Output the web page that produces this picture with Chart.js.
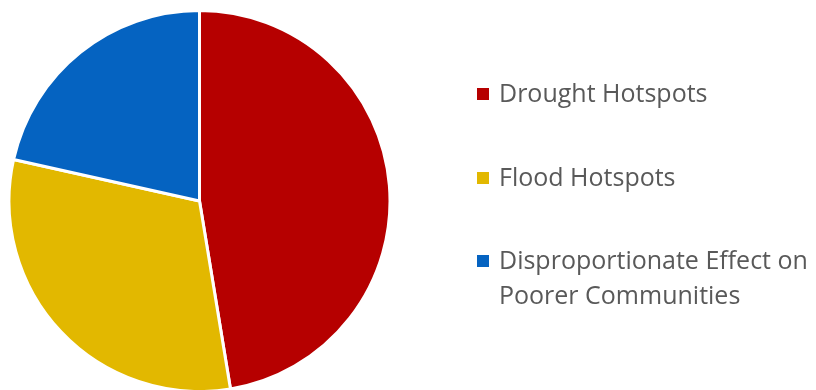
<!DOCTYPE html>
<html>
<head>
<meta charset="utf-8">
<script src="https://cdn.jsdelivr.net/npm/chart.js@4/dist/chart.umd.min.js"></script>
<style>
html,body{margin:0;padding:0;background:#fff;}
#wrap{position:relative;width:816px;height:390px;}
</style>
</head>
<body>
<div id="wrap"><canvas id="c" width="816" height="390"></canvas></div>
<script>
const categories = ["Drought Hotspots", "Flood Hotspots", "Disproportionate Effect on Poorer Communities"];
const legendLines = [["Drought Hotspots"], ["Flood Hotspots"], ["Disproportionate Effect on", "Poorer Communities"]];
const values = [47.4, 31.1, 21.5];
const colors = ["#B60000", "#E2B800", "#0563C1"];

const legendPlugin = {
  id: 'customLegend',
  afterDraw(chart) {
    const ctx = chart.ctx;
    ctx.save();
    ctx.font = '25px "Open Sans"';
    ctx.textBaseline = 'alphabetic';
    const baselines = [102, 186, 269];
    const lineH = 35;
    legendLines.forEach((lines, i) => {
      const y = baselines[i];
      ctx.fillStyle = chart.data.datasets[0].backgroundColor[i];
      ctx.fillRect(477, y - 14, 12, 12);
      ctx.fillStyle = '#595959';
      lines.forEach((t, j) => ctx.fillText(t, 499, y + j * lineH));
    });
    ctx.restore();
  }
};

new Chart(document.getElementById('c'), {
  type: 'pie',
  data: {
    labels: categories,
    datasets: [{
      data: values,
      backgroundColor: colors,
      borderColor: '#ffffff',
      borderWidth: 3,
      hoverOffset: 0,
      radius: 190.5
    }]
  },
  options: {
    responsive: false,
    animation: false,
    events: [],
    layout: { padding: { left: 0, right: 417, top: 12, bottom: 0 } },
    plugins: { legend: { display: false }, tooltip: { enabled: false } }
  },
  plugins: [legendPlugin]
});
</script>
</body>
</html>
